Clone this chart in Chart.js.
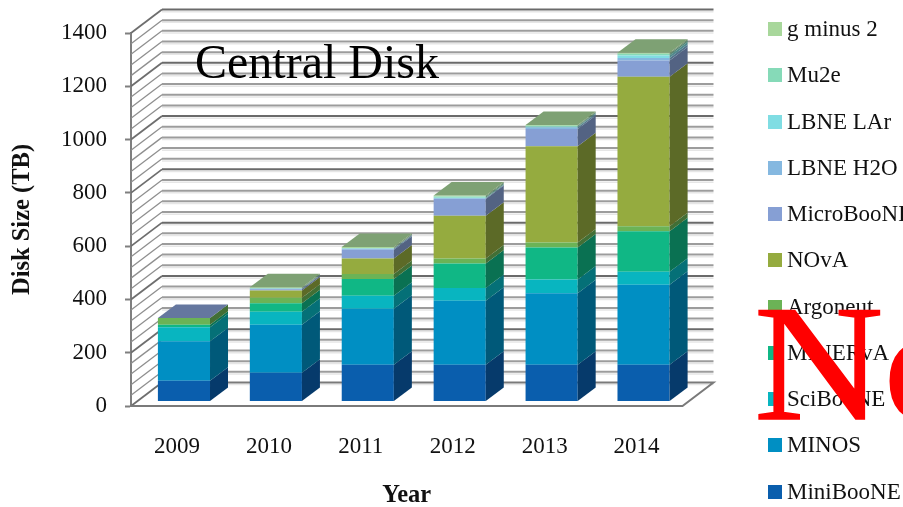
<!DOCTYPE html>
<html>
<head>
<meta charset="utf-8">
<title>Central Disk</title>
<script src="https://cdn.jsdelivr.net/npm/chart.js@4"></script>
<style>
    html, body { margin: 0; padding: 0; background: #fff; }
    #wrap { position: relative; width: 903px; height: 507px; overflow: hidden; font-family: "Liberation Serif", serif; }
    canvas { position: absolute; left: 0; top: 0; }
    #heading { position: absolute; left: 195px; top: 33px; font-size: 48px; line-height: 58px; color: #000; white-space: nowrap; }
    #stamp { position: absolute; left: 754px; top: 268px; font-size: 166px; line-height: 190px; color: #f00; white-space: nowrap; -webkit-text-stroke: 1.5px #f00; transform: scaleX(1.08); transform-origin: 0 0; }
    .key { position: absolute; left: 768px; height: 24px; line-height: 24px; font-size: 23px; color: #111; white-space: nowrap; }
    .key i { position: absolute; left: 0; top: 5px; width: 14px; height: 14px; }
    .key span { position: absolute; left: 19px; top: 0; }
</style>
</head>
<body>
<div id="wrap">
    <canvas id="diskChart" width="903" height="507"></canvas>
    <div id="heading">Central Disk</div>
    <div id="legend"></div>
    <div id="stamp">No</div>
</div>
<script>
const years = ['2009', '2010', '2011', '2012', '2013', '2014'];

// TB per experiment, bottom of the stack first
const miniBooNE  = [78, 108, 138, 138, 138, 138];
const minos      = [148, 180, 210, 240, 268, 300];
const sciBooNE   = [53, 49, 49, 48, 52, 49];
const minerva    = [9, 32, 63, 92, 120, 152];
const argoneut   = [25, 20, 19, 19, 19, 19];
const nova       = [0, 28, 58, 160, 361, 561];
const microBooNE = [0.5, 4, 33, 63, 65, 61];
const lbneH2O    = [0, 2, 3, 3, 5, 9];
const lbneLAr    = [0, 1, 1, 2, 3, 10];
const mu2e       = [0, 2, 2, 4, 4, 6];
const gMinus2    = [0, 3, 4, 4, 3, 4];

const seriesNames = ['MiniBooNE', 'MINOS', 'SciBooNE', 'MINERvA', 'Argoneut', 'NOvA', 'MicroBooNE', 'LBNE H2O', 'LBNE LAr', 'Mu2e', 'g minus 2'];
const seriesValues = [miniBooNE, minos, sciBooNE, minerva, argoneut, nova, microBooNE, lbneH2O, lbneLAr, mu2e, gMinus2];
const seriesColors = ['#0A5EAD', '#008FC3', '#08B5C0', '#10B785', '#6BB356', '#95AB3F', '#869FD4', '#85B8E0', '#80DDE3', '#86DAB8', '#A8D79B'];

// 3D look: how far the back wall sits from the axis, where the bars stand, how deep they are
const wallDx = 31, wallDy = 23.5;
const barDx = 7, barDy = 4.5;
const sideDx = 18, sideDy = 13.5;

function shade(hex, f) {
    const n = parseInt(hex.slice(1), 16);
    return `rgb(${Math.round((n >> 16) * f)}, ${Math.round(((n >> 8) & 255) * f)}, ${Math.round((n & 255) * f)})`;
}

function line(ctx, pts, color, width) {
    ctx.strokeStyle = color;
    ctx.lineWidth = width;
    ctx.beginPath();
    pts.forEach((p, i) => i ? ctx.lineTo(p[0], p[1]) : ctx.moveTo(p[0], p[1]));
    ctx.stroke();
}

function fillPoly(ctx, pts, color) {
    ctx.fillStyle = color;
    ctx.beginPath();
    pts.forEach((p, i) => i ? ctx.lineTo(p[0], p[1]) : ctx.moveTo(p[0], p[1]));
    ctx.closePath();
    ctx.fill();
}

const wallPlugin = {
    id: 'walls',
    beforeDatasetsDraw(chart) {
        const ctx = chart.ctx;
        const y = chart.scales.y;
        const left = chart.chartArea.left, right = chart.chartArea.right;
        ctx.save();
        y.ticks.forEach(t => {
            const py = y.getPixelForValue(t.value);
            const major = t.value % 200 === 0;
            line(ctx, [[left, py], [left + wallDx, py - wallDy]], major ? '#6e6e6e' : '#8f8f8f', major ? 1.8 : 1.3);
            if (t.value === 0) return;
            line(ctx, [[left + wallDx, py - wallDy + 2.2], [right + wallDx, py - wallDy + 2.2]], '#e6e6e6', 1.5);
            line(ctx, [[left + wallDx, py - wallDy], [right + wallDx, py - wallDy]], major ? '#6a6a6a' : '#9c9c9c', 2);
        });
        // floor
        const p0 = y.getPixelForValue(0);
        line(ctx, [[left + wallDx, p0 - wallDy + 2], [right + wallDx, p0 - wallDy + 2]], '#e6e6e6', 1.5);
        line(ctx, [[left + wallDx, p0 - wallDy], [right + wallDx, p0 - wallDy], [right, p0], [left, p0]], '#7a7a7a', 2);
        ctx.restore();

        // bars stand a little way in from the front of the floor
        ctx.save();
        ctx.translate(barDx, -barDy);
    },
    afterDatasetsDraw(chart) {
        const ctx = chart.ctx;
        years.forEach((yr, i) => {
            let top = null;
            seriesValues.forEach((vals, s) => {
                const bar = chart.getDatasetMeta(s).data[i];
                if (vals[i] <= 0) return;
                const r = bar.x + bar.width / 2;
                fillPoly(ctx, [[r, bar.y], [r + sideDx, bar.y - sideDy], [r + sideDx, bar.base - sideDy], [r, bar.base]], shade(seriesColors[s], 0.62));
                top = { bar: bar, color: seriesColors[s] };
            });
            const b = top.bar, l = b.x - b.width / 2, r = b.x + b.width / 2;
            fillPoly(ctx, [[l, b.y], [l + sideDx, b.y - sideDy], [r + sideDx, b.y - sideDy], [r, b.y]], shade(top.color, 0.75));
        });
        ctx.restore();
    }
};

new Chart(document.getElementById('diskChart'), {
    type: 'bar',
    data: {
        labels: years,
        datasets: seriesNames.map((name, s) => ({
            label: name,
            data: seriesValues[s],
            backgroundColor: seriesColors[s],
            borderWidth: 0,
            barPercentage: 0.567,
            categoryPercentage: 1,
            clip: false
        }))
    },
    options: {
        responsive: false,
        animation: false,
        layout: { padding: { left: 0, right: 220.5, top: 33, bottom: 0 } },
        plugins: {
            legend: { display: false },
            tooltip: { enabled: false }
        },
        scales: {
            x: {
                stacked: true,
                afterFit: s => { s.height = 101; },
                grid: { display: false },
                border: { display: false },
                ticks: { padding: 19, color: '#111', font: { family: 'Liberation Serif', size: 23 }, maxRotation: 0 },
                title: { display: true, text: 'Year', color: '#111', padding: { top: 0, bottom: -1 }, font: { family: 'Liberation Serif', size: 24.5, weight: 'bold', lineHeight: 1 } }
            },
            y: {
                stacked: true,
                min: 0,
                max: 1400,
                afterFit: s => { s.width = 131; },
                grid: {
                    drawOnChartArea: false,
                    tickLength: 6,
                    tickWidth: 2,
                    tickColor: c => c.tick.value % 200 === 0 ? '#7f7f7f' : 'rgba(0,0,0,0)'
                },
                border: { color: '#7f7f7f', width: 2 },
                ticks: {
                    stepSize: 40,
                    autoSkip: false,
                    padding: 18,
                    color: '#111',
                    font: { family: 'Liberation Serif', size: 23 },
                    callback: v => v % 200 === 0 ? v : ''
                },
                title: { display: true, text: 'Disk Size (TB)', color: '#111', padding: { top: 10, bottom: 0 }, font: { family: 'Liberation Serif', size: 24.5, weight: 'bold', lineHeight: 1 } }
            }
        }
    },
    plugins: [wallPlugin]
});

// legend sits far off the plot with wide rows, top row is the last series
const legendBox = document.getElementById('legend');
seriesNames.slice().reverse().forEach((name, i) => {
    const row = document.createElement('div');
    row.className = 'key';
    row.style.top = (17 + i * 46.25) + 'px';
    const swatch = document.createElement('i');
    swatch.style.background = seriesColors[seriesNames.length - 1 - i];
    const text = document.createElement('span');
    text.textContent = name;
    row.appendChild(swatch);
    row.appendChild(text);
    legendBox.appendChild(row);
});
</script>
</body>
</html>
